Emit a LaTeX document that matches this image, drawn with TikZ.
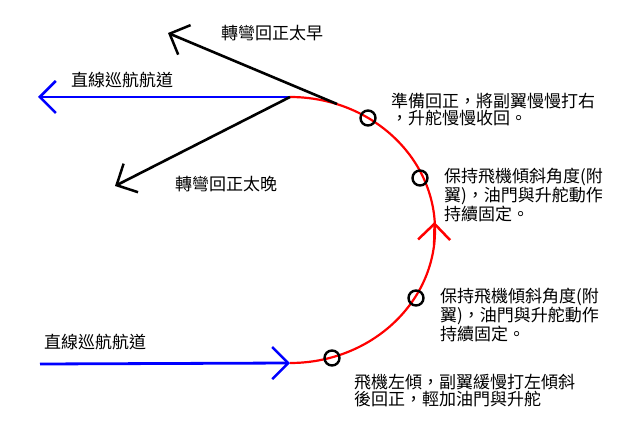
\documentclass[tikz,border=0pt]{standalone}
\usepackage{fontspec}
\setmainfont{Noto Sans CJK TC}
\usetikzlibrary{arrows.meta}
\begin{document}
\begin{tikzpicture}[x=1pt,y=-1pt,
  vee/.style={-{Straight Barb[length=16pt,width=32pt,line width=2.5pt]}},
  lbl/.style={font=\fontsize{17}{17}\selectfont,inner sep=0pt,align=left},
  ring/.style={circle,draw,line width=2.4pt,minimum size=15pt,inner sep=0pt}]
\useasboundingbox (0,0) rectangle (640,425);
\coordinate (top) at (290,97);
\coordinate (bot) at (290,363);
% red arc
\draw[red,line width=2.2pt] (top) arc[start angle=90,end angle=-90,x radius=145,y radius=-133];
\draw[red,line width=2.2pt,vee] (434,245) -- (434.5,222);
% blue
\coordinate (bl) at (38,97);
\coordinate (bl2) at (40,364);
\draw[blue,line width=2.8pt,vee] (top) -- (bl);
\draw[blue,line width=2.8pt,vee] (bl2) -- (bot);
% black
\coordinate (bs) at (337,104);
\coordinate (be) at (168,33);
\coordinate (le) at (115,186);
\draw[line width=2.6pt,vee] (bs) -- (be);
\draw[line width=2.6pt,vee] (top) -- (le);
% markers
\node[ring] (m1) at (368,118) {};
\node[ring] (m2) at (420,178) {};
\node[ring] (m3) at (416,298) {};
\node[ring] (m4) at (332,358) {};
% labels
\node[lbl] (t1) at (272,33) {轉彎回正太早};
\node[lbl] (t2) at (122,80) {直線巡航航道};
\node[lbl] (t3) at (226,184) {轉彎回正太晚};
\node[lbl] (t4) at (95,342) {直線巡航航道};
\node[lbl,anchor=west] (t5) at (391,110) {準備回正，將副翼慢慢打右\\，升舵慢慢收回。};
\node[lbl,anchor=west] (t6) at (444,195) {保持飛機傾斜角度(附\\翼)，油門與升舵動作\\持續固定。};
\node[lbl,anchor=west] (t7) at (440,315) {保持飛機傾斜角度(附\\翼)，油門與升舵動作\\持續固定。};
\node[lbl,anchor=west] (t8) at (354,391) {飛機左傾，副翼緩慢打左傾斜\\後回正，輕加油門與升舵};
\end{tikzpicture}
\end{document}
